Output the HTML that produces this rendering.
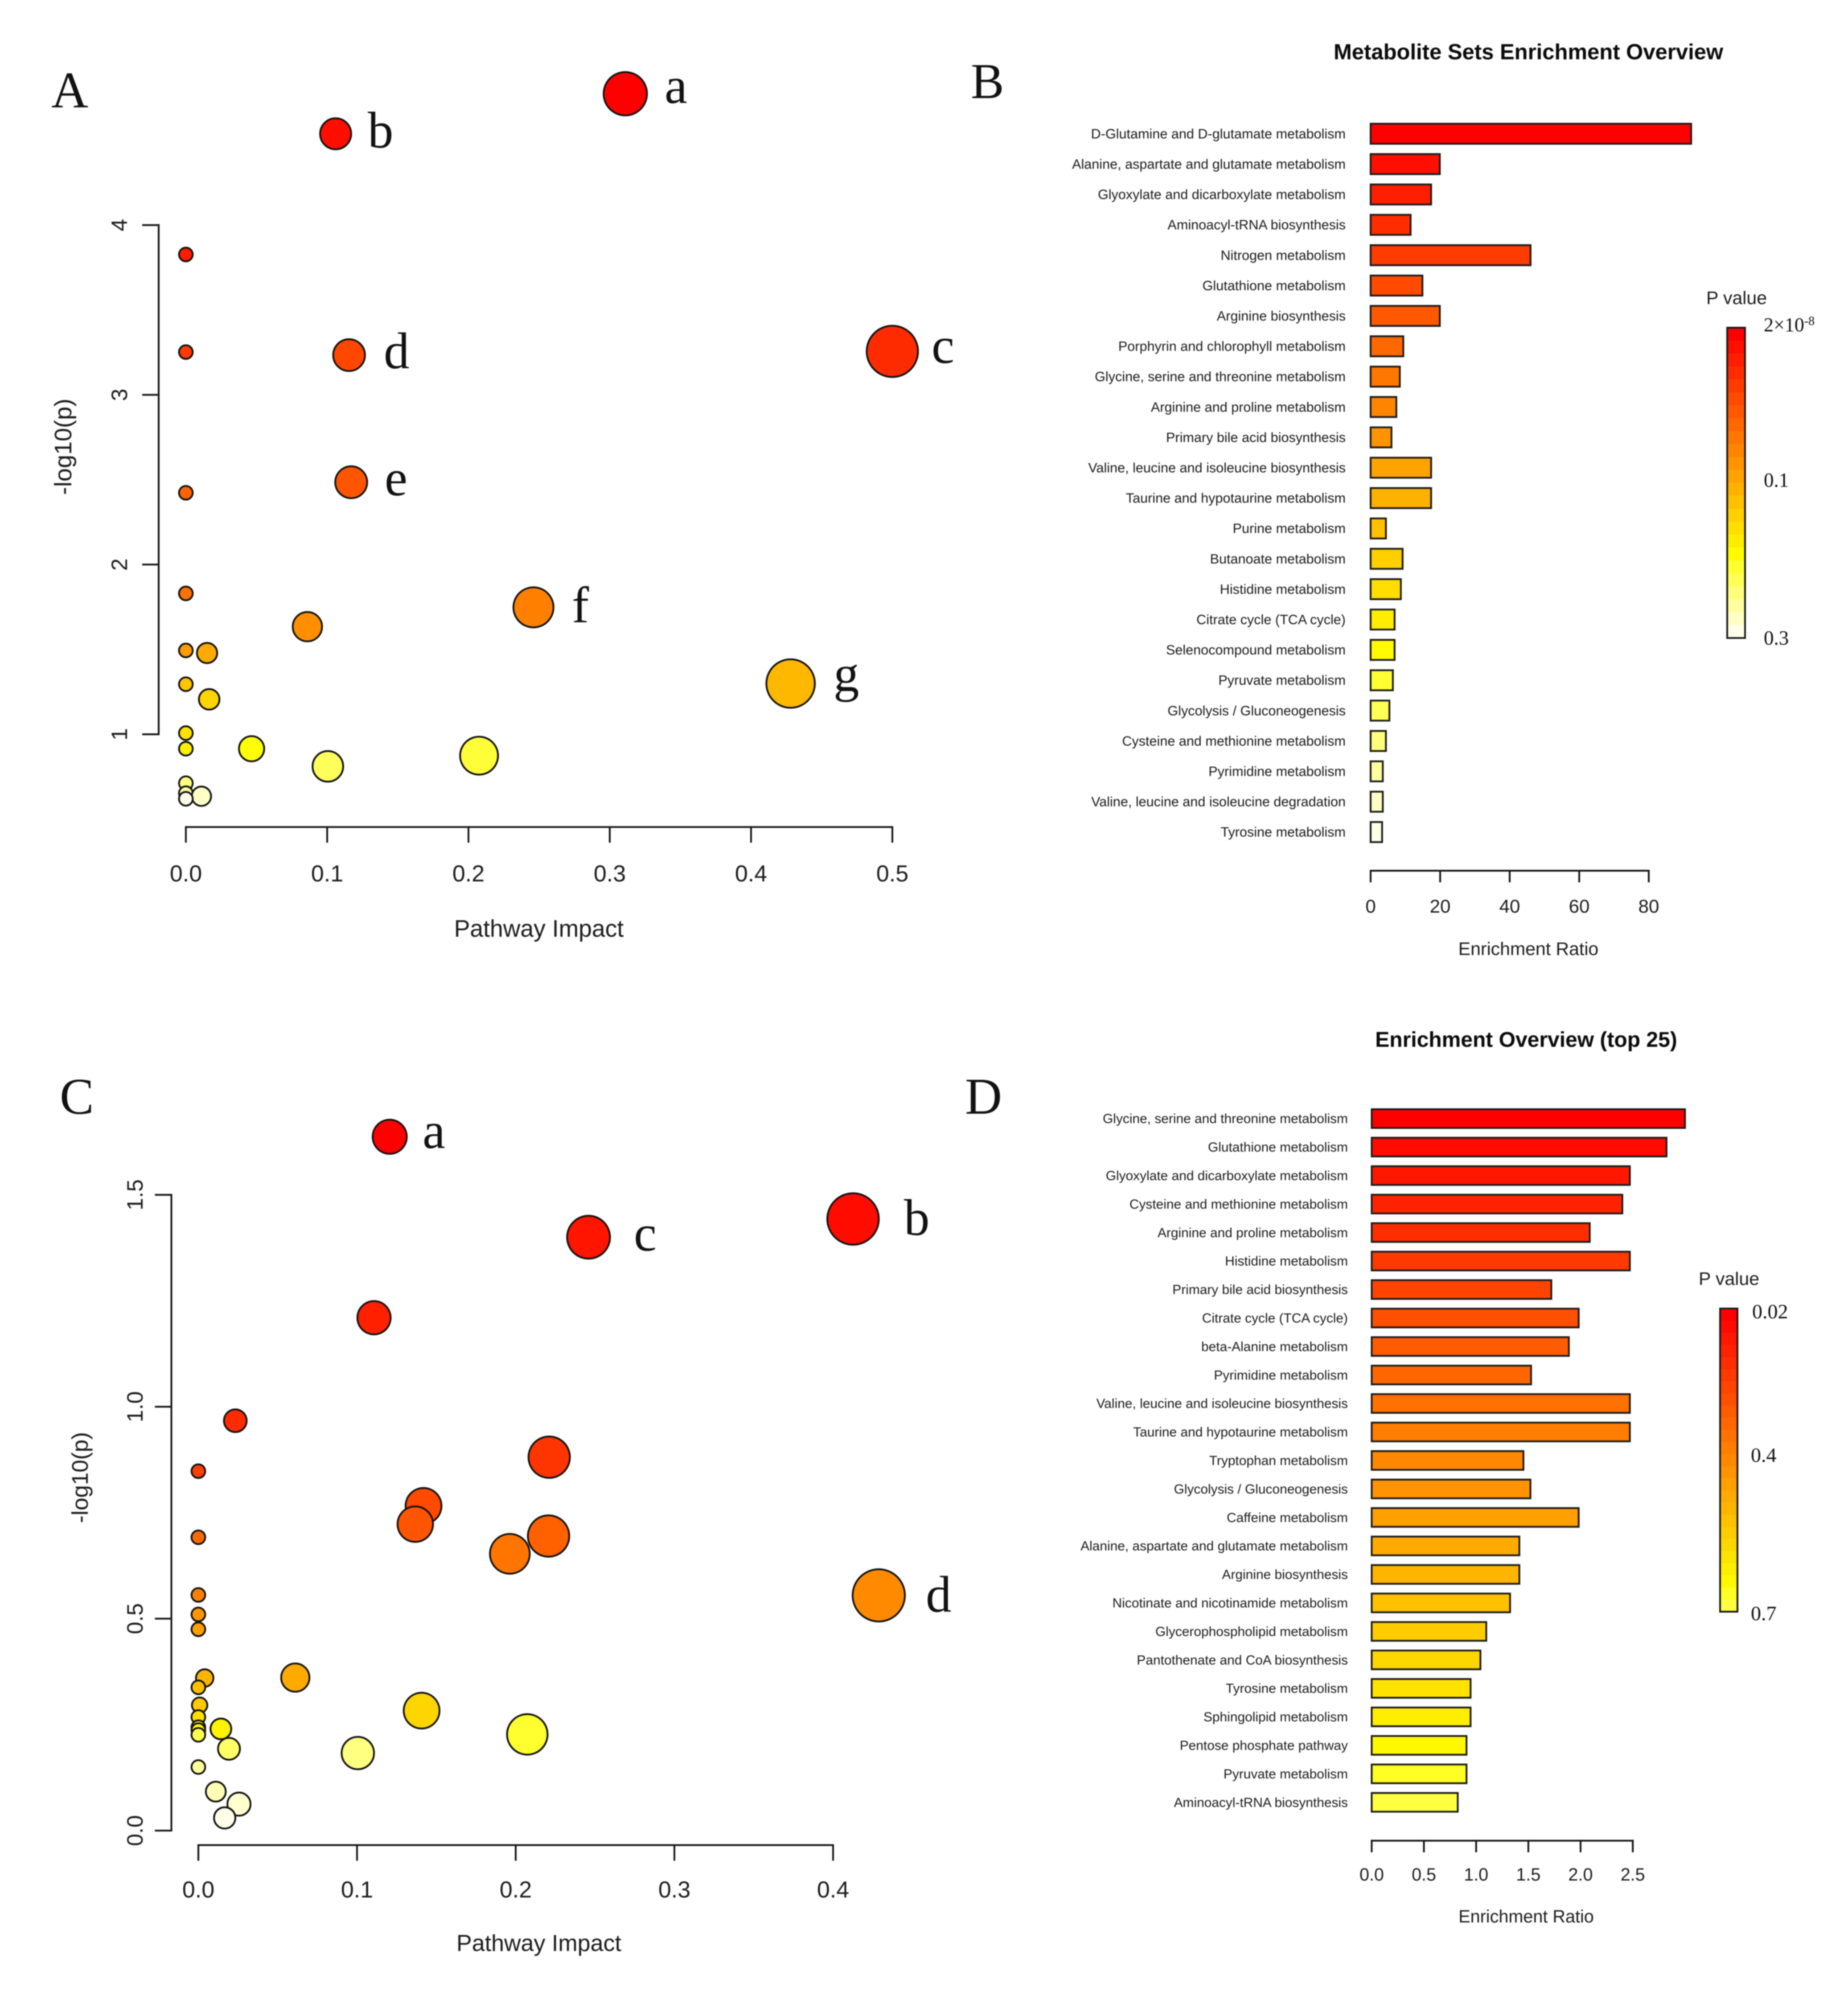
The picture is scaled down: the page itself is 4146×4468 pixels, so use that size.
<!DOCTYPE html>
<html lang="en">
<head>
<meta charset="utf-8">
<title>Pathway impact and enrichment overview</title>
<style>
html,body{margin:0;padding:0;background:#fff}
svg{display:block;filter:blur(1.2px)}
text{font-family:"Liberation Sans",sans-serif;fill:#1c1c1c}
.serif{font-family:"Liberation Serif",serif;fill:#111}
.bold{font-weight:bold;fill:#0a0a0a}
</style>
</head>
<body>
<svg id="figure" xmlns="http://www.w3.org/2000/svg" width="4146" height="4468" viewBox="0 0 4146 4468">
<rect width="4146" height="4468" fill="#fff"/>
<g id="scatterA"></g>
<g id="barB"></g>
<g id="scatterC"></g>
<g id="barD"></g>

<text class="serif" x="115" y="241" font-size="115">A</text>
<text class="serif" x="2178" y="220" font-size="112">B</text>
<text class="serif" x="134" y="2498" font-size="115">C</text>
<text class="serif" x="2165" y="2498" font-size="115">D</text>

<text class="serif" x="1491" y="231" font-size="115">a</text>
<text class="serif" x="825" y="331" font-size="115">b</text>
<text class="serif" x="2090" y="814" font-size="115">c</text>
<text class="serif" x="861" y="826" font-size="115">d</text>
<text class="serif" x="863" y="1111" font-size="115">e</text>
<text class="serif" x="1283" y="1396" font-size="115">f</text>
<text class="serif" x="1870" y="1550" font-size="115">g</text>

<text class="serif" x="948" y="2575" font-size="115">a</text>
<text class="serif" x="2028" y="2770" font-size="115">b</text>
<text class="serif" x="1422" y="2805" font-size="115">c</text>
<text class="serif" x="2077" y="3615" font-size="115">d</text>
</svg>

<script>
// Panel A data
const impactA = [0.311,0.106,0.5,0.1155,0.117,0.246,0.428,0,0,0,0,0,0,0,0,0,0,0,0.086,0.015,0.0165,0.0465,0.1005,0.2075,0.011];
const logPA = [4.774,4.538,3.256,3.234,2.485,1.748,1.299,3.827,3.252,2.423,1.83,1.494,1.295,1.007,0.915,0.712,0.653,0.62,1.634,1.479,1.206,0.915,0.811,0.874,0.635];
const xTicksA = ['0.0','0.1','0.2','0.3','0.4','0.5'];
const yTicksA = ['1','2','3','4'];

// Panel B data
const categoriesB = ['D-Glutamine and D-glutamate metabolism','Alanine, aspartate and glutamate metabolism','Glyoxylate and dicarboxylate metabolism','Aminoacyl-tRNA biosynthesis','Nitrogen metabolism','Glutathione metabolism','Arginine biosynthesis','Porphyrin and chlorophyll metabolism','Glycine, serine and threonine metabolism','Arginine and proline metabolism','Primary bile acid biosynthesis','Valine, leucine and isoleucine biosynthesis','Taurine and hypotaurine metabolism','Purine metabolism','Butanoate metabolism','Histidine metabolism','Citrate cycle (TCA cycle)','Selenocompound metabolism','Pyruvate metabolism','Glycolysis / Gluconeogenesis','Cysteine and methionine metabolism','Pyrimidine metabolism','Valine, leucine and isoleucine degradation','Tyrosine metabolism'];
const ratiosB = [92.2,19.9,17.4,11.5,46,14.9,19.9,9.4,8.4,7.4,6,17.4,17.4,4.4,9.2,8.7,6.9,6.9,6.4,5.4,4.4,3.5,3.5,3.3];
const xTicksB = ['0','20','40','60','80'];

// Panel C data
const impactC = [0.1206,0.4126,0.2459,0.4288,0.1107,0.0233,0.2211,0.1419,0.1367,0.2207,0.1963,0,0,0,0,0,0,0,0,0,0,0,0.0008,0.004,0.0611,0.1407,0.2073,0.1005,0.0142,0.0193,0.011,0.0256,0.0166];
const logPC = [1.637,1.443,1.4,0.555,1.21,0.967,0.881,0.766,0.723,0.695,0.653,0.848,0.692,0.556,0.51,0.475,0.338,0.268,0.244,0.237,0.226,0.15,0.296,0.36,0.361,0.283,0.227,0.183,0.24,0.193,0.092,0.0625,0.03];
const xTicksC = ['0.0','0.1','0.2','0.3','0.4'];
const yTicksC = ['0.0','0.5','1.0','1.5'];

// Panel D data
const categoriesD = ['Glycine, serine and threonine metabolism','Glutathione metabolism','Glyoxylate and dicarboxylate metabolism','Cysteine and methionine metabolism','Arginine and proline metabolism','Histidine metabolism','Primary bile acid biosynthesis','Citrate cycle (TCA cycle)','beta-Alanine metabolism','Pyrimidine metabolism','Valine, leucine and isoleucine biosynthesis','Taurine and hypotaurine metabolism','Tryptophan metabolism','Glycolysis / Gluconeogenesis','Caffeine metabolism','Alanine, aspartate and glutamate metabolism','Arginine biosynthesis','Nicotinate and nicotinamide metabolism','Glycerophospholipid metabolism','Pantothenate and CoA biosynthesis','Tyrosine metabolism','Sphingolipid metabolism','Pentose phosphate pathway','Pyruvate metabolism','Aminoacyl-tRNA biosynthesis'];
const ratiosD = [3.0,2.823,2.472,2.4,2.088,2.472,1.72,1.982,1.888,1.526,2.472,2.472,1.453,1.52,1.982,1.414,1.414,1.325,1.097,1.041,0.947,0.947,0.908,0.908,0.824];
const xTicksD = ['0.0','0.5','1.0','1.5','2.0','2.5'];

const NS = 'http://www.w3.org/2000/svg';
function mk(tag, attrs, parent) {
  const el = document.createElementNS(NS, tag);
  for (const k in attrs) el.setAttribute(k, attrs[k]);
  parent.appendChild(el);
  return el;
}
function label(parent, name, str, x, y, size, anchor, rotate, cls) {
  const el = mk('text', {x: x, y: y, 'font-size': size, 'text-anchor': anchor}, parent);
  if (rotate) el.setAttribute('transform', 'rotate(-90 ' + x + ' ' + y + ')');
  if (cls) el.setAttribute('class', cls);
  el.textContent = str;
  
  
  return el;
}
function axisLine(parent, name, x1, y1, x2, y2) {
  const el = mk('line', {x1: x1, y1: y1, x2: x2, y2: y2, stroke: '#151515', 'stroke-width': 4, 'stroke-linecap': 'square'}, parent);
  
  
  return el;
}
// R heat.colors style palette, t in [0,1]
function heat(t) {
  if (t <= 0.75) return 'rgb(255,' + Math.round(255 * t / 0.75) + ',0)';
  return 'rgb(255,255,' + Math.round(255 * (0.083 + 0.834 * (t - 0.75) / 0.25)) + ')';
}

function drawScatter(root, impact, logP, xTicks, yTicks, g) {
  const sx = v => g.x0 + v * g.xUnit;
  const sy = v => g.yBase - (v - g.yMin) * g.yUnit;
  // y axis
  const yVals = yTicks.map(Number);
  axisLine(root, 'y-axis-line', g.yAxisX, sy(yVals[0]), g.yAxisX, sy(yVals[yVals.length - 1]));
  yTicks.forEach(t => {
    const v = Number(t);
    axisLine(root, 'y-axis-tick', g.yAxisX - 35, sy(v), g.yAxisX, sy(v));
    label(root, 'y-tick-label', t, g.yTickX, sy(v), 50, 'middle', true);
  });
  label(root, 'y-axis-title', '-log10(p)', g.yTitleX, g.yTitleY, g.yTitleSize, 'middle', true);
  // x axis
  const xVals = xTicks.map(Number);
  axisLine(root, 'x-axis-line', sx(xVals[0]), g.xAxisY, sx(xVals[xVals.length - 1]), g.xAxisY);
  xTicks.forEach(t => {
    const v = Number(t);
    axisLine(root, 'x-axis-tick', sx(v), g.xAxisY, sx(v), g.xAxisY + 33);
    label(root, 'x-tick-label', t, sx(v), g.xTickY, 52, 'middle');
  });
  label(root, 'x-axis-title', 'Pathway Impact', g.xTitleX, g.xTitleY, g.xTitleSize, 'middle');
  // points, coloured by rank of significance, lowest drawn last
  const order = logP.map((v, i) => i).sort((a, b) => logP[b] - logP[a]);
  order.forEach((idx, rank) => {
    const c = mk('circle', {
      cx: sx(impact[idx]), cy: sy(logP[idx]),
      r: 15.4 + g.rScale * Math.sqrt(impact[idx]),
      fill: heat(rank / (order.length - 1)), stroke: '#111', 'stroke-width': 4
    }, root);
    
    
  });
}

function drawBars(root, cats, vals, xTicks, g) {
  const sx = v => g.x0 + v * g.xUnit;
  cats.forEach((name, i) => {
    const cy = g.y0 + i * g.step;
    const r = mk('rect', {
      x: sx(0), y: cy - g.barH / 2, width: sx(vals[i]) - sx(0), height: g.barH,
      fill: heat(i / (g.colorN - 1)), stroke: '#1a1a1a', 'stroke-width': 4
    }, root);
    
    
    label(root, 'pathway-label', name, g.labelX, cy + g.labelSize * 0.34, g.labelSize, 'end');
  });
  const xVals = xTicks.map(Number);
  axisLine(root, 'x-axis-line', sx(xVals[0]), g.axisY, sx(xVals[xVals.length - 1]), g.axisY);
  xTicks.forEach(t => {
    const v = Number(t);
    axisLine(root, 'x-axis-tick', sx(v), g.axisY, sx(v), g.axisY + 24);
    label(root, 'x-tick-label', t, sx(v), g.tickY, g.tickSize, 'middle');
  });
  label(root, 'x-axis-title', 'Enrichment Ratio', g.titleX, g.xTitleY, g.xTitleSize, 'middle');
  label(root, 'chart-title', g.title, g.titleX, g.titleY, g.titleSize, 'middle', false, 'bold');
  // colour legend
  const bandH = (g.legY1 - g.legY0) / g.legBands;
  for (let i = 0; i < g.legBands; i++) {
    const b = mk('rect', {
      x: g.legX0, y: g.legY0 + i * bandH, width: g.legX1 - g.legX0, height: bandH + 0.6,
      fill: heat(g.legEnd * i / (g.legBands - 1))
    }, root);
    
    
  }
  const f = mk('rect', {x: g.legX0, y: g.legY0, width: g.legX1 - g.legX0, height: g.legY1 - g.legY0, fill: 'none', stroke: '#1a1a1a', 'stroke-width': 4}, root);
  
  
  label(root, 'legend-title', 'P value', g.legTitleX, g.legTitleY, 41, 'middle');
}

drawScatter(document.getElementById('scatterA'), impactA, logPA, xTicksA, yTicksA, {
  x0: 417, xUnit: 3170, yBase: 1647, yMin: 1, yUnit: 380.7, yAxisX: 356, yTickX: 285,
  yTitleX: 160, yTitleY: 1002, yTitleSize: 54, xAxisY: 1855, xTickY: 1977, xTitleX: 1209, xTitleY: 2101, xTitleSize: 53.5, rScale: 59.6
});
drawBars(document.getElementById('barB'), categoriesB, ratiosB, xTicksB, {
  x0: 3075, xUnit: 7.8, y0: 300, step: 68.1, barH: 45, colorN: 24, labelX: 3019, labelSize: 30.6,
  axisY: 1953, tickY: 2047, tickSize: 42, titleX: 3429, xTitleY: 2142, xTitleSize: 41,
  title: 'Metabolite Sets Enrichment Overview', titleY: 133, titleSize: 49,
  legX0: 3875, legX1: 3915, legY0: 735, legY1: 1431, legBands: 24, legEnd: 1, legTitleX: 3896, legTitleY: 682
});
drawScatter(document.getElementById('scatterC'), impactC, logPC, xTicksC, yTicksC, {
  x0: 445, xUnit: 3560, yBase: 4106, yMin: 0, yUnit: 950.7, yAxisX: 384.5, yTickX: 320,
  yTitleX: 197, yTitleY: 3314, yTitleSize: 51, xAxisY: 4138.5, xTickY: 4256, xTitleX: 1209, xTitleY: 4376, xTitleSize: 52, rScale: 66
});
drawBars(document.getElementById('barD'), categoriesD, ratiosD, xTicksD, {
  x0: 3077.4, xUnit: 234.3, y0: 2509, step: 63.9, barH: 42, colorN: 31, labelX: 3024, labelSize: 29.9,
  axisY: 4128.6, tickY: 4218, tickSize: 39.5, titleX: 3424, xTitleY: 4312, xTitleSize: 39.6,
  title: 'Enrichment Overview (top 25)', titleY: 2348, titleSize: 48,
  legX0: 3859, legX1: 3898, legY0: 2935, legY1: 3615, legBands: 25, legEnd: 0.8, legTitleX: 3879, legTitleY: 2882
});

// Legend tick text
const barBGroup = document.getElementById('barB');
const legendTop = label(barBGroup, 'legend-label-max', '2×10', 3957, 743, 44, 'start', false, 'serif');
const legendExp = mk('tspan', {dy: -14, 'font-size': 28}, legendTop);
legendExp.textContent = '-8';


label(barBGroup, 'legend-label-mid', '0.1', 3957, 1092, 45, 'start', false, 'serif');
label(barBGroup, 'legend-label-min', '0.3', 3957, 1446, 45, 'start', false, 'serif');
const barDGroup = document.getElementById('barD');
label(barDGroup, 'legend-label-min', '0.02', 3931, 2957, 46, 'start', false, 'serif');
label(barDGroup, 'legend-label-mid', '0.4', 3928, 3279, 46, 'start', false, 'serif');
label(barDGroup, 'legend-label-max', '0.7', 3928, 3634, 46, 'start', false, 'serif');
</script>
</body>
</html>
